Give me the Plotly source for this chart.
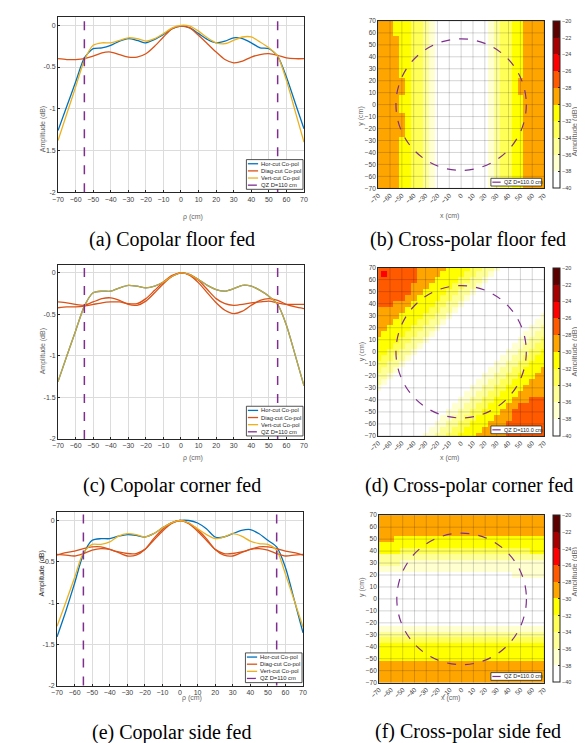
import plotly.graph_objects as go

W, H = 585, 743
FONT = "Liberation Sans, Arial, sans-serif"
SERIF = "Liberation Serif, Times New Roman, serif"

# ---------------- data: co-polar cuts (dB) ----------------
RHO_CM = [-70, -65, -60, -55, -50, -45, -40, -35, -30, -25, -20, -15, -10, -5, 0,
          5, 10, 15, 20, 25, 30, 35, 40, 45, 50, 55, 60, 65, 70]

FLOOR_HOR = [-1.26, -0.97, -0.68, -0.39, -0.28, -0.27, -0.24, -0.19, -0.16, -0.18, -0.21, -0.17, -0.11, -0.04, -0.01,
             -0.03, -0.10, -0.17, -0.21, -0.19, -0.15, -0.16, -0.21, -0.27, -0.28, -0.37, -0.62, -0.93, -1.24]
FLOOR_DIAG = [-0.40, -0.41, -0.41, -0.40, -0.37, -0.33, -0.32, -0.35, -0.38, -0.38, -0.34, -0.25, -0.14, -0.04, -0.01,
              -0.03, -0.12, -0.22, -0.32, -0.41, -0.45, -0.43, -0.38, -0.35, -0.34, -0.36, -0.39, -0.40, -0.40]
FLOOR_VERT = [-1.38, -1.06, -0.74, -0.42, -0.24, -0.21, -0.21, -0.18, -0.15, -0.16, -0.19, -0.16, -0.10, -0.03, 0.00,
              -0.01, -0.07, -0.15, -0.21, -0.22, -0.18, -0.14, -0.14, -0.20, -0.27, -0.37, -0.66, -1.03, -1.40]

CORNER_HOR = [-1.31, -1.00, -0.70, -0.40, -0.24, -0.22, -0.22, -0.18, -0.15, -0.16, -0.18, -0.16, -0.11, -0.04, 0.00,
              -0.02, -0.08, -0.15, -0.20, -0.22, -0.19, -0.15, -0.16, -0.21, -0.28, -0.38, -0.63, -0.99, -1.36]
CORNER_DIAG = [-0.35, -0.36, -0.38, -0.39, -0.35, -0.31, -0.30, -0.33, -0.38, -0.39, -0.34, -0.24, -0.13, -0.04, 0.00,
               -0.03, -0.12, -0.24, -0.36, -0.45, -0.49, -0.46, -0.39, -0.33, -0.31, -0.33, -0.38, -0.41, -0.43]
CORNER_DIAG2 = [-0.42, -0.41, -0.41, -0.40, -0.38, -0.36, -0.35, -0.35, -0.37, -0.37, -0.31, -0.21, -0.11, -0.03, 0.00,
                -0.02, -0.09, -0.20, -0.31, -0.37, -0.39, -0.38, -0.36, -0.35, -0.34, -0.36, -0.38, -0.38, -0.38]
CORNER_VERT = [-1.31, -1.00, -0.70, -0.40, -0.24, -0.22, -0.22, -0.18, -0.15, -0.16, -0.18, -0.16, -0.11, -0.04, 0.00,
               -0.02, -0.08, -0.15, -0.20, -0.22, -0.19, -0.15, -0.16, -0.21, -0.28, -0.38, -0.63, -0.99, -1.36]

SIDE_HOR = [-1.41, -1.10, -0.76, -0.41, -0.24, -0.22, -0.22, -0.19, -0.17, -0.18, -0.20, -0.16, -0.09, -0.03, 0.00,
            0.00, -0.03, -0.10, -0.20, -0.20, -0.16, -0.12, -0.11, -0.16, -0.24, -0.32, -0.57, -0.96, -1.36]
SIDE_DIAG = [-0.42, -0.39, -0.37, -0.34, -0.32, -0.32, -0.35, -0.38, -0.40, -0.40, -0.35, -0.24, -0.13, -0.04, 0.00,
             -0.04, -0.13, -0.24, -0.35, -0.40, -0.40, -0.38, -0.35, -0.32, -0.32, -0.34, -0.37, -0.39, -0.42]
SIDE_DIAG2 = [-0.41, -0.42, -0.43, -0.40, -0.36, -0.34, -0.35, -0.39, -0.43, -0.42, -0.35, -0.22, -0.11, -0.03, 0.00,
              -0.03, -0.11, -0.22, -0.35, -0.42, -0.43, -0.39, -0.35, -0.34, -0.36, -0.40, -0.43, -0.42, -0.41]
SIDE_VERT = [-1.28, -0.99, -0.69, -0.39, -0.29, -0.29, -0.26, -0.19, -0.16, -0.17, -0.20, -0.16, -0.09, -0.03, 0.00,
             -0.03, -0.10, -0.17, -0.22, -0.20, -0.16, -0.19, -0.25, -0.28, -0.29, -0.36, -0.65, -0.97, -1.29]

QZ_D_CM = 110
RHO_TICKS = [-70, -60, -50, -40, -30, -20, -10, 0, 10, 20, 30, 40, 50, 60, 70]
AMP_TICKS = [0, -0.5, -1, -1.5, -2]
AMP_TICK_TEXT = ["0", "-0.5", "-1", "-1.5", "-2"]
AMP_RANGE = [-2, 0.1]

SERIES_NAMES = ["Hor-cut Co-pol", "Diag-cut Co-pol", "Vert-cut Co-pol", "QZ D=110 cm"]
C_HOR, C_DIAG, C_VERT, C_QZ = "#0072BD", "#D95319", "#EDB120", "#7E2F8E"

# ---------------- data: cross-polar maps ----------------
GRID_CM = [-70, -65, -60, -55, -50, -45, -40, -35, -30, -25, -20, -15, -10, -5, 0,
           5, 10, 15, 20, 25, 30, 35, 40, 45, 50, 55, 60, 65, 70]
ROW_Y_CM = [70, 65, 60, 55, 50, 45, 40, 35, 30, 25, 20, 15, 10, 5, 0,
            -5, -10, -15, -20, -25, -30, -35, -40, -45, -50, -55, -60, -65, -70]
# level code k -> band [-40+2k, -38+2k] dB, value = band centre
LEVEL_DB = [-39, -37, -35, -33, -31, -29, -27, -25, -23, -21]
LEVEL_COLORS = ["#FFFFFF", "#FFFFD0", "#FFFF98", "#FFFF58", "#FFFF00",
                "#FFA500", "#FF5A00", "#FF0000", "#A80000", "#5C0000"]
CB_TICKS = [-40, -38, -36, -34, -32, -30, -28, -26, -24, -22, -20]

XPOL_FLOOR = [
    "55544433210000000001233445555",
    "55544433210000000001233445555",
    "55544433210000000001233445555",
    "55554433210000000001233445555",
    "55554433210000000001233445555",
    "55554433210000000001233445555",
    "55554433210000000001233445555",
    "55554433210000000001233445555",
    "55554433210000000001233445555",
    "55554433210000000001233445555",
    "55555433210000000001233455555",
    "55555433210000000001233455555",
    "55555433210000000001233455555",
    "55554433210000000001233445555",
    "55554433210000000001233445555",
    "55554433210000000001233445555",
    "55555433210000000001233445555",
    "55555433210000000001233445555",
    "55555433210000000001233445555",
    "55555433210000000001233445555",
    "55554433210000000001233445555",
    "55554433210000000001233445555",
    "55554433210000000001233445555",
    "55554433210000000001233445555",
    "55554433210000000001233445555",
    "55554433210000000001233445555",
    "55554433210000000001233445555",
    "55554433210000000001233445555",
    "55554433210000000001233445555",
]

XPOL_CORNER = [
    "66666665555544443322100000000",
    "67666665555444433221000000000",
    "66666665554444332210000000000",
    "66666655544443322100000000000",
    "66666655444433221000000000000",
    "66666554444332210000000000000",
    "66655544443322100000000000000",
    "55555444433221000000000000000",
    "55554444332210000000000000001",
    "55544443322100000000000000011",
    "55444433221000000000000000112",
    "54444332210000000000000001122",
    "44443322100000000000000011223",
    "44433221000000000000000112233",
    "44332210000000000000001122334",
    "43322100000000000000011223344",
    "33221000000000000000112233444",
    "32210000000000000001122334445",
    "22100000000000000011223344455",
    "21000000000000000112233444555",
    "10000000000000001122334445555",
    "00000000000000011223344455555",
    "00000000000000112233444555666",
    "00000000000001122334445566666",
    "00000000000011223344455666666",
    "00000000000112233444555666666",
    "00000000001122334445556666666",
    "00000000011223344455556666666",
    "00000000112233444555556666666",
]

XPOL_SIDE = [
    "55555555555555555555555555555",
    "55555555555555555555555555555",
    "55555555555555555555555555555",
    "55555555555555555555555555555",
    "55544444444444444444444444444",
    "44444444444444444444444444444",
    "44443333333333333333333333444",
    "22222222222222222222222222222",
    "22221111111111111111111111111",
    "11111111111111111111111111111",
    "00000000000000000000000111111",
    "00000000000000000000000000000",
    "00000000000000000000000000000",
    "00000000000000000000000000000",
    "00000000000000000000000000000",
    "00000000000000000000000000000",
    "00000000000000000000000000000",
    "00000000000000000000000000000",
    "00000000000000000000000000000",
    "11111111111111111111111111111",
    "22222222222222222222222222222",
    "33333333333333333333333333333",
    "44444444444444444444444444444",
    "44444444444444444444444444444",
    "44444444444444444444444444444",
    "55555555555555555555555555555",
    "55555555555555555555555555555",
    "55555555555555555555555555555",
    "55555555555555555555555555555",
]

# ---------------- layout geometry (pixels) ----------------
# (left, right, top, bottom)
PANELS = {
    1: (41, 293, 5, 182),     # (a)
    2: (369, 539, 9, 178),    # (b)
    3: (41, 293, 255, 431),   # (c)
    4: (369, 539, 258, 428),  # (d)
    5: (40, 292, 505, 680),   # (e)
    6: (370, 539, 508, 677),  # (f)
}
CAPTIONS = [
    ("(a) Copolar floor fed", 158, 230),
    ("(b) Cross-polar floor fed", 461, 230),
    ("(c) Copolar corner fed", 158, 478),
    ("(d) Cross-polar corner fed", 462, 478),
    ("(e) Copolar side fed", 157, 727),
    ("(f) Cross-polar side fed", 461, 726),
]


def px(x):
    return x / W


def py(y):
    return 1 - y / H


def ax_suffix(n):
    return "" if n == 1 else str(n)


fig = go.Figure()
shapes = []
annotations = []
layout = {}

AX_COL = "#262626"
TICK_COL = "#404040"
TITLE_COL = "#666666"

# ---------------- line panels ----------------
line_panels = [
    (1, [(FLOOR_HOR, C_HOR, 1.0), (FLOOR_DIAG, C_DIAG, 1.0), (FLOOR_VERT, C_VERT, 1.0)], TITLE_COL),
    (3, [(CORNER_HOR, C_HOR, 1.0), (CORNER_DIAG, C_DIAG, 1.0), (CORNER_DIAG2, C_DIAG, 1.0),
         (CORNER_VERT, C_VERT, 0.85)], TITLE_COL),
    (5, [(SIDE_HOR, C_HOR, 1.0), (SIDE_DIAG, C_DIAG, 1.0), (SIDE_DIAG2, C_DIAG, 1.0),
         (SIDE_VERT, C_VERT, 1.0)], "#262626"),
]

for n, series, ycol in line_panels:
    L, R, T, B = PANELS[n]
    s = ax_suffix(n)
    for vals, col, op in series:
        fig.add_trace(go.Scatter(
            x=RHO_CM, y=vals, mode="lines", opacity=op,
            line=dict(color=col, width=1.3, shape="spline", smoothing=0.7),
            xaxis="x" + s, yaxis="y" + s, showlegend=False, hoverinfo="skip"))
    layout["xaxis" + s] = dict(
        domain=[px(L), px(R)], anchor="y" + s, range=[-70, 70],
        tickvals=RHO_TICKS, ticks="inside", ticklen=2, tickcolor=AX_COL,
        showline=True, mirror=True, linecolor=AX_COL, linewidth=1,
        showgrid=True, gridcolor="#dcdcdc", gridwidth=1, zeroline=False,
        tickfont=dict(family=FONT, size=7, color=TICK_COL))
    layout["yaxis" + s] = dict(
        domain=[py(B), py(T)], anchor="x" + s, range=AMP_RANGE,
        tickvals=AMP_TICKS, ticktext=AMP_TICK_TEXT, ticks="inside", ticklen=2, tickcolor=AX_COL,
        showline=True, mirror=True, linecolor=AX_COL, linewidth=1,
        showgrid=True, gridcolor="#dcdcdc", gridwidth=1, zeroline=False,
        tickfont=dict(family=FONT, size=7, color=TICK_COL))
    # QZ edges
    for sign in (-1, 1):
        shapes.append(dict(type="line", xref="x" + s, yref="y" + s + " domain",
                           x0=sign * QZ_D_CM / 2, x1=sign * QZ_D_CM / 2, y0=0, y1=1,
                           line=dict(color=C_QZ, width=1.5, dash="dash"), layer="above"))
    # axis titles
    annotations.append(dict(text="Amplitude (dB)", x=px(L - 22), y=py((T + B) / 2), xref="paper", yref="paper",
                            textangle=-90, showarrow=False, font=dict(family=FONT, size=7, color=ycol)))
    annotations.append(dict(text="\u03c1 (cm)", x=px((L + R) / 2), y=py(B + 19), xref="paper", yref="paper",
                            showarrow=False, font=dict(family=FONT, size=7, color=TITLE_COL)))
    # legend (manual, compact)
    lr, lb = R - 1, B - 3
    lw, lh = 58, 30
    ll, lt = lr - lw, lb - lh
    shapes.append(dict(type="rect", xref="paper", yref="paper", x0=px(ll), x1=px(lr), y0=py(lb), y1=py(lt),
                       line=dict(color="#262626", width=0.8), fillcolor="white", layer="above"))
    entries = [(SERIES_NAMES[0], C_HOR, "solid"), (SERIES_NAMES[1], C_DIAG, "solid"),
               (SERIES_NAMES[2], C_VERT, "solid"), (SERIES_NAMES[3], C_QZ, "dash")]
    for i, (lab, col, dash) in enumerate(entries):
        yy = lt + 4.2 + i * 7.2
        shapes.append(dict(type="line", xref="paper", yref="paper", x0=px(ll + 1.5), x1=px(ll + 12),
                           y0=py(yy), y1=py(yy), line=dict(color=col, width=1.3, dash=dash), layer="above"))
        annotations.append(dict(text=lab, x=px(ll + 13), y=py(yy), xref="paper", yref="paper",
                                xanchor="left", yanchor="middle", showarrow=False,
                                font=dict(family=FONT, size=5.8, color="#262626")))

# ---------------- heat-map panels ----------------
colorscale = []
for k, c in enumerate(LEVEL_COLORS):
    colorscale.append([k / len(LEVEL_COLORS), c])
    colorscale.append([(k + 1) / len(LEVEL_COLORS), c])

for n, rows in [(2, XPOL_FLOOR), (4, XPOL_CORNER), (6, XPOL_SIDE)]:
    L, R, T, B = PANELS[n]
    s = ax_suffix(n)
    z = [[LEVEL_DB[int(ch)] for ch in row] for row in rows]
    fig.add_trace(go.Heatmap(
        x=GRID_CM, y=ROW_Y_CM, z=z, zmin=CB_TICKS[0], zmax=CB_TICKS[-1], colorscale=colorscale,
        xaxis="x" + s, yaxis="y" + s, hoverinfo="skip",
        colorbar=dict(x=px(548), xanchor="left", y=py((T + B) / 2), yanchor="middle",
                      len=(B - T) / H, lenmode="fraction", thickness=7, thicknessmode="pixels",
                      xpad=0, ypad=0, outlinewidth=1, outlinecolor=AX_COL,
                      tickvals=CB_TICKS, ticks="inside", ticklen=2, tickcolor=AX_COL,
                      tickfont=dict(family=FONT, size=5.5, color=TICK_COL))))
    layout["xaxis" + s] = dict(
        domain=[px(L), px(R)], anchor="y" + s, range=[-70, 70], tickvals=RHO_TICKS, tickangle=-45,
        ticks="", showline=True, mirror=True, linecolor=AX_COL, linewidth=1,
        showgrid=False, zeroline=False, tickfont=dict(family=FONT, size=6.5, color=TICK_COL))
    layout["yaxis" + s] = dict(
        domain=[py(B), py(T)], anchor="x" + s, range=[-70, 70], tickvals=RHO_TICKS,
        ticks="", showline=True, mirror=True, linecolor=AX_COL, linewidth=1,
        showgrid=False, zeroline=False, tickfont=dict(family=FONT, size=6.5, color=TICK_COL))
    # grid drawn over the map
    for t in RHO_TICKS:
        shapes.append(dict(type="line", xref="x" + s, yref="y" + s + " domain", x0=t, x1=t, y0=0, y1=1,
                           line=dict(color="rgba(0,0,0,0.17)", width=1), layer="above"))
        shapes.append(dict(type="line", xref="x" + s + " domain", yref="y" + s, x0=0, x1=1, y0=t, y1=t,
                           line=dict(color="rgba(0,0,0,0.17)", width=1), layer="above"))
    r = QZ_D_CM / 2
    shapes.append(dict(type="circle", xref="x" + s, yref="y" + s, x0=-r, x1=r, y0=-r, y1=r,
                       line=dict(color=C_QZ, width=1.2, dash="dash"), layer="above"))
    # axis titles
    annotations.append(dict(text="x (cm)", x=px((L + R) / 2), y=py(B + 22), xref="paper", yref="paper",
                            showarrow=False, font=dict(family=FONT, size=7, color=TITLE_COL)))
    annotations.append(dict(text="y (cm)", x=px(L - 17), y=py((T + B) / 2), xref="paper", yref="paper",
                            textangle=-90, showarrow=False, font=dict(family=FONT, size=7, color=TITLE_COL)))
    annotations.append(dict(text="Amplitude (dB)", x=px(577), y=py((T + B) / 2), xref="paper", yref="paper",
                            textangle=-90, showarrow=False, font=dict(family=FONT, size=7.5, color=TITLE_COL)))
    # legend
    lr, lb = R - 2.5, B - 2.3
    lw, lh = 52, 7.8
    ll, lt = lr - lw, lb - lh
    shapes.append(dict(type="rect", xref="paper", yref="paper", x0=px(ll), x1=px(lr), y0=py(lb), y1=py(lt),
                       line=dict(color="#262626", width=0.8), fillcolor="white", layer="above"))
    shapes.append(dict(type="line", xref="paper", yref="paper", x0=px(ll + 1.5), x1=px(ll + 10),
                       y0=py(lt + lh / 2), y1=py(lt + lh / 2), line=dict(color=C_QZ, width=1.2, dash="dash"),
                       layer="above"))
    annotations.append(dict(text="QZ D=110.0 cm", x=px(ll + 11), y=py(lt + lh / 2), xref="paper", yref="paper",
                            xanchor="left", yanchor="middle", showarrow=False,
                            font=dict(family=FONT, size=5.5, color="#262626")))

# ---------------- captions ----------------
for txt, cx, cy in CAPTIONS:
    annotations.append(dict(text=txt, x=px(cx), y=py(cy), xref="paper", yref="paper", showarrow=False,
                            xanchor="center", yanchor="middle", font=dict(family=SERIF, size=20, color="black")))

fig.update_layout(
    width=W, height=H, margin=dict(l=0, r=0, t=0, b=0, pad=0),
    paper_bgcolor="white", plot_bgcolor="white", showlegend=False,
    shapes=shapes, annotations=annotations, **layout)

fig.write_html("out.html")
